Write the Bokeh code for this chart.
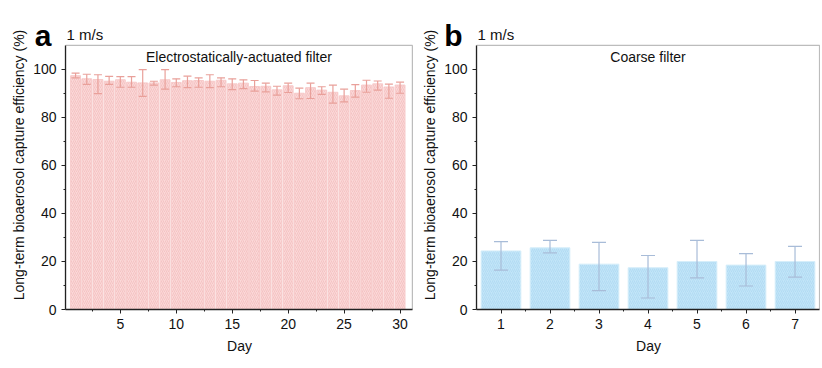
from bokeh.plotting import figure
from bokeh.layouts import row
from bokeh.models import (Whisker, TeeHead, ColumnDataSource, Label, FixedTicker,
                          LinearAxis, BoxAnnotation)
from bokeh.embed import file_html
from bokeh.resources import INLINE

# ---- data ----
days_a = list(range(1, 31))
eff_a = [97.4, 96.1, 95.8, 95.1, 95.7, 94.7, 94.4, 94.4, 95.7, 94.6,
         95.3, 95.4, 95.1, 95.5, 94.0, 94.3, 92.9, 93.0, 91.5, 93.2,
         90.1, 92.4, 91.4, 90.5, 89.0, 91.2, 93.5, 94.0, 92.7, 93.5]
up_a = [98.5, 98.0, 97.8, 97.1, 97.0, 97.0, 99.9, 95.1, 99.9, 96.1,
        97.2, 96.5, 97.8, 96.5, 96.1, 95.7, 95.4, 94.3, 93.0, 94.3,
        92.2, 94.3, 92.8, 93.5, 91.8, 93.7, 95.5, 95.2, 93.9, 94.7]
low_a = [96.5, 93.8, 89.9, 93.8, 92.6, 92.6, 88.8, 93.5, 91.8, 92.8,
         92.4, 92.6, 92.4, 92.8, 91.6, 92.0, 91.0, 90.7, 89.3, 90.4,
         87.8, 87.9, 89.6, 86.0, 86.5, 88.5, 90.5, 91.4, 88.0, 90.1]

days_b = [1, 2, 3, 4, 5, 6, 7]
eff_b = [24.4, 25.7, 18.9, 17.4, 20.0, 18.5, 20.0]
up_b = [28.3, 28.8, 28.0, 22.5, 28.8, 23.3, 26.3]
low_b = [16.4, 23.6, 7.9, 4.8, 13.2, 9.8, 13.5]

y_ticks = [0, 20, 40, 60, 80, 100]
y_minor = [10, 30, 50, 70, 90]
x_ticks_a = [5, 10, 15, 20, 25, 30]
x_minor_a = [2.5, 7.5, 12.5, 17.5, 22.5, 27.5]
x_minor_b = [1.5, 2.5, 3.5, 4.5, 5.5, 6.5]

# axis box limits
XA = (0.1, 31.1)
XB = (0.5, 7.5)
Y_BOX = (0, 110)
Y_VIEW = (0, 120.4)     # frame extends above the box to hold the header texts
LETTER_Y = 114

FONT = "Liberation Sans"
YLABEL = "Long-term bioaerosol capture efficiency (%)"
INK = "#222222"


def style(p, xlim, letter, letter_standoff):
    p.outline_line_color = None
    p.grid.visible = False
    for ax in (p.xaxis[0], p.yaxis[0]):
        ax.axis_line_color = INK
        ax.axis_line_width = 1.3
        ax.major_tick_line_color = INK
        ax.minor_tick_line_color = INK
        ax.major_tick_out = 4
        ax.major_tick_in = 0
        ax.minor_tick_out = 2
        ax.minor_tick_in = 0
        ax.major_label_text_font = FONT
        ax.major_label_text_font_size = "14px"
        ax.major_label_text_color = "#111111"
        ax.axis_label_text_font = FONT
        ax.axis_label_text_font_size = "14px"
        ax.axis_label_text_font_style = "normal"
        ax.axis_label_text_color = "#111111"
    p.yaxis[0].ticker = FixedTicker(ticks=y_ticks, minor_ticks=y_minor)
    p.yaxis[0].bounds = Y_BOX
    p.xaxis[0].bounds = xlim
    p.xaxis[0].axis_label = "Day"
    p.xaxis[0].axis_label_standoff = 6
    # box around the axes area
    p.add_layout(BoxAnnotation(left=xlim[0], right=xlim[1], bottom=Y_BOX[0],
                               top=Y_BOX[1], fill_color=None, line_color=INK,
                               line_width=1.2, level="overlay"))
    # header "1 m/s"
    p.add_layout(Label(x=xlim[0], y=114.6, x_offset=1, text="1 m/s",
                       text_align="left", text_baseline="middle",
                       text_font=FONT, text_font_size="15px", text_color="#111111"))
    # panel letter drawn as a tick label of a label-only axis
    lab_axis = LinearAxis(ticker=FixedTicker(ticks=[LETTER_Y], minor_ticks=[]),
                          major_label_overrides={LETTER_Y: letter},
                          axis_line_color=None, major_tick_line_color=None,
                          minor_tick_line_color=None, major_tick_out=0,
                          major_tick_in=0, minor_tick_out=0, minor_tick_in=0,
                          major_label_standoff=letter_standoff,
                          major_label_text_font=FONT,
                          major_label_text_font_size="30px",
                          major_label_text_font_style="bold",
                          major_label_text_color="#000000")
    p.add_layout(lab_axis, "left")
    # axis carrying only the y-axis title
    title_axis = LinearAxis(ticker=FixedTicker(ticks=[], minor_ticks=[]),
                            bounds=Y_BOX, axis_line_color=None,
                            major_tick_line_color=None, minor_tick_line_color=None,
                            major_tick_out=0, major_tick_in=0,
                            minor_tick_out=0, minor_tick_in=0,
                            major_label_standoff=0,
                            axis_label=YLABEL, axis_label_standoff=4,
                            axis_label_text_font=FONT,
                            axis_label_text_font_size="14px",
                            axis_label_text_font_style="normal",
                            axis_label_text_color="#111111")
    p.add_layout(title_axis, "left")


# ---- panel a ----
pa = figure(width=415, height=360, x_range=(XA[0], XA[1] + 0.1), y_range=Y_VIEW,
            output_backend="svg", toolbar_location=None,
            min_border_left=65, min_border_right=2, min_border_top=20,
            min_border_bottom=51)
style(pa, XA, "a", -21)
pa.xaxis[0].ticker = FixedTicker(ticks=x_ticks_a, minor_ticks=x_minor_a)
src_a = ColumnDataSource(dict(x=days_a, top=eff_a, up=up_a, low=low_a))
pa.vbar(x="x", top="top", width=0.88, source=src_a,
        fill_color="#fbd8d8", line_color="#f7caca", line_width=1,
        hatch_pattern="right_diagonal_line", hatch_color="#eeb2b2",
        hatch_scale=4, hatch_weight=0.7, hatch_alpha=0.8)
pa.add_layout(Whisker(source=src_a, base="x", upper="up", lower="low",
                      line_color="#e9a09a", line_width=1.2, level="overlay",
                      upper_head=TeeHead(size=8, line_color="#e9a09a", line_width=1.2),
                      lower_head=TeeHead(size=8, line_color="#e9a09a", line_width=1.2)))
pa.add_layout(Label(x=(XA[0] + XA[1]) / 2, y=105, text="Electrostatically-actuated filter",
                    text_align="center", text_baseline="middle",
                    text_font=FONT, text_font_size="14px", text_color="#111111"))

# ---- panel b ----
pb = figure(width=405, height=360, x_range=(XB[0], XB[1] + 0.02), y_range=Y_VIEW,
            output_backend="svg", toolbar_location=None,
            min_border_left=61, min_border_right=0, min_border_top=20,
            min_border_bottom=51)
style(pb, XB, "b", -21)
pb.xaxis[0].ticker = FixedTicker(ticks=days_b, minor_ticks=x_minor_b)
src_b = ColumnDataSource(dict(x=days_b, top=eff_b, up=up_b, low=low_b))
pb.vbar(x="x", top="top", width=0.81, source=src_b,
        fill_color="#c2e5f8", line_color="#d6eefa", line_width=1,
        hatch_pattern="right_diagonal_line", hatch_color="#a6d4ef",
        hatch_scale=4, hatch_weight=0.7, hatch_alpha=0.8)
pb.add_layout(Whisker(source=src_b, base="x", upper="up", lower="low",
                      line_color="#a8bcd8", line_width=1.2, level="overlay",
                      upper_head=TeeHead(size=14, line_color="#a8bcd8", line_width=1.2),
                      lower_head=TeeHead(size=14, line_color="#a8bcd8", line_width=1.2)))
pb.add_layout(Label(x=(XB[0] + XB[1]) / 2, y=105, text="Coarse filter",
                    text_align="center", text_baseline="middle",
                    text_font=FONT, text_font_size="14px", text_color="#111111"))

layout = row(pa, pb)
open("out.html", "w").write(file_html(layout, INLINE))
